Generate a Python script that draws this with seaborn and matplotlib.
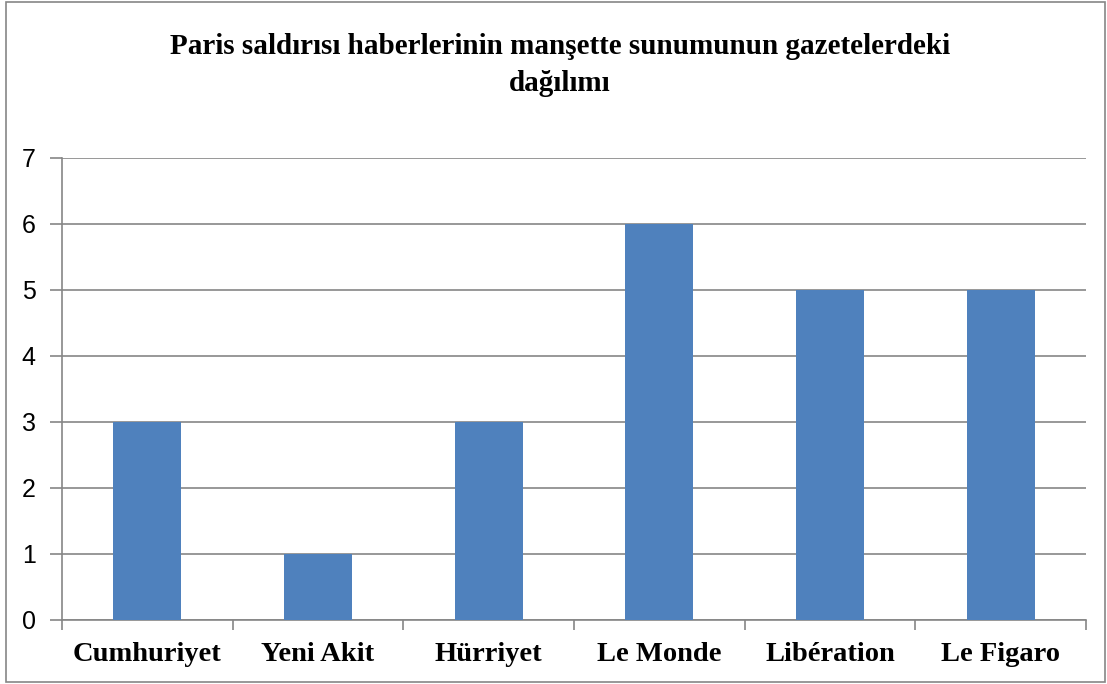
import numpy as np
import pandas as pd
import matplotlib
matplotlib.use("Agg")
import matplotlib.pyplot as plt
from matplotlib.patches import Rectangle
import seaborn as sns

# veriler
gazeteler = ["Cumhuriyet", "Yeni Akit", "Hürriyet", "Le Monde", "Libération", "Le Figaro"]
manset_sayisi = [3, 1, 3, 6, 5, 5]
baslik = "Paris saldırısı haberlerinin manşette sunumunun gazetelerdeki\ndağılımı"

sns.set_style("white")
plt.rcParams['font.family'] = ['Liberation Sans', 'DejaVu Sans']
plt.rcParams['text.color'] = 'black'
plt.rcParams['xtick.color'] = 'black'
plt.rcParams['ytick.color'] = 'black'

df = pd.DataFrame({"gazete": gazeteler, "sayi": manset_sayisi})

fig = plt.figure(figsize=(11.07, 6.84), dpi=100)
ax = fig.add_axes([0.056, 0.0936, 0.925, 0.6755])

sns.barplot(data=df, x="gazete", y="sayi", color="#4F81BD", width=0.4,
            saturation=1, linewidth=0, ax=ax, zorder=3)

ax.set_xlim(-0.5, len(gazeteler) - 0.5)
ax.set_ylim(0, 7)
ax.set_yticks(range(0, 8))
ax.yaxis.grid(True, color="#868686", linewidth=1.2, zorder=0)
ax.set_xlabel("")
ax.set_ylabel("")

for s in ["top", "right"]:
    ax.spines[s].set_visible(False)
for s in ["left", "bottom"]:
    ax.spines[s].set_color("#868686")
    ax.spines[s].set_linewidth(1.2)

# x eksenindeki ayraç çizgileri
ax.set_xticks(np.arange(-0.5, len(gazeteler)), minor=True)
ax.tick_params(axis="x", which="both", bottom=True)
ax.tick_params(axis="x", which="major", length=0, pad=16, labelcolor="black")
ax.tick_params(axis="x", which="minor", length=7, width=1.2, color="#868686", direction="out")
ax.tick_params(axis="y", which="major", left=True, length=9, width=1.2, color="#868686",
               direction="out", labelsize=18, pad=10, labelcolor="black")

for lbl in ax.get_xticklabels():
    lbl.set_family(["Liberation Serif", "DejaVu Serif"])
    lbl.set_fontweight("bold")
    lbl.set_fontsize(20.5)

fig.text(0.506, 0.905, baslik, ha="center", va="center", fontsize=21,
         fontweight="bold", family=["Liberation Serif", "DejaVu Serif"],
         linespacing=1.45, color="black")

# grafik çerçevesi
fig.patches.append(Rectangle((0.005, 0.003), 0.993, 0.994, transform=fig.transFigure,
                             fill=False, edgecolor="#868686", linewidth=1.2))

fig.savefig("out.png", dpi=100)
